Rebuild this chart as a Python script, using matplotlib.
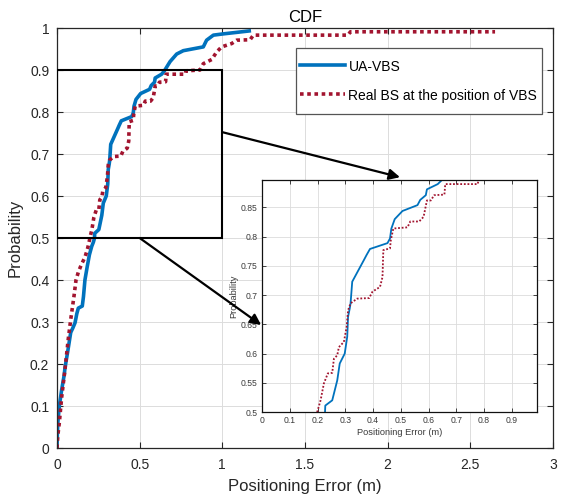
import matplotlib
matplotlib.use("Agg")
import matplotlib.pyplot as plt
from matplotlib.patches import Rectangle, ConnectionPatch
from matplotlib.ticker import FormatStrFormatter

plt.rcParams['font.family'] = ['Liberation Sans', 'DejaVu Sans']

# UA-VBS curve
vbs_x = [0, 0.002, 0.005, 0.014, 0.028, 0.044, 0.048, 0.065, 0.083, 0.095, 0.109, 0.12,
         0.129, 0.153, 0.16, 0.169, 0.182, 0.196, 0.21, 0.22, 0.227, 0.228, 0.253, 0.271,
         0.28, 0.298, 0.307, 0.31, 0.316, 0.319, 0.325, 0.367, 0.377, 0.389, 0.452, 0.461,
         0.466, 0.478, 0.506, 0.56, 0.57, 0.59, 0.594, 0.633, 0.648, 0.684, 0.724, 0.764,
         0.885, 0.905, 0.946, 1.006, 1.163]
vbs_y = [0, 0.03, 0.06, 0.1, 0.138, 0.175, 0.19, 0.23, 0.275, 0.285, 0.298, 0.32,
         0.333, 0.338, 0.36, 0.4, 0.43, 0.46, 0.48, 0.49, 0.5, 0.511, 0.52, 0.554,
         0.583, 0.6, 0.629, 0.663, 0.677, 0.686, 0.723, 0.76, 0.769, 0.779, 0.789, 0.797,
         0.814, 0.83, 0.844, 0.854, 0.863, 0.871, 0.881, 0.89, 0.897, 0.92, 0.938, 0.946,
         0.955, 0.971, 0.983, 0.986, 0.993]

# Real BS at the position of VBS
real_x = [0, 0.005, 0.014, 0.028, 0.048, 0.068, 0.083, 0.103, 0.115, 0.13, 0.149, 0.169,
          0.185, 0.195, 0.199, 0.211, 0.223, 0.237, 0.253, 0.259, 0.271, 0.277, 0.295,
          0.305, 0.31, 0.319, 0.343, 0.386, 0.398, 0.425, 0.434, 0.437, 0.461, 0.464,
          0.473, 0.524, 0.534, 0.566, 0.582, 0.594, 0.608, 0.62, 0.657, 0.66, 0.777, 0.78,
          0.865, 0.885, 0.936, 0.966, 0.996, 1.057, 1.087, 1.168, 1.188, 1.76, 1.775, 2.65]
real_y = [0, 0.03, 0.06, 0.12, 0.186, 0.259, 0.306, 0.362, 0.4, 0.42, 0.438, 0.454,
          0.475, 0.492, 0.5, 0.52, 0.549, 0.566, 0.567, 0.591, 0.597, 0.611, 0.62,
          0.646, 0.674, 0.686, 0.694, 0.695, 0.706, 0.714, 0.731, 0.777, 0.78, 0.794,
          0.814, 0.816, 0.826, 0.826, 0.834, 0.862, 0.862, 0.871, 0.872, 0.89, 0.89, 0.898,
          0.9, 0.915, 0.925, 0.943, 0.955, 0.963, 0.971, 0.972, 0.983, 0.983, 0.991, 0.991]

labels = ['UA-VBS', 'Real BS at the position of VBS']
blue = '#0072BD'
red = '#A2142F'
axcol = '#262626'
gridcol = '#dcdcdc'

fig = plt.figure(figsize=(5.61, 5.0), dpi=100)
ax = fig.add_axes([0.1016, 0.104, 0.884, 0.84])

ax.plot(vbs_x, vbs_y, color=blue, lw=2.6, label=labels[0])
ax.plot(real_x, real_y, color=red, lw=2.6, linestyle=(0, (1, 1)), label=labels[1])

ax.set_xlim(0, 3)
ax.set_ylim(0, 1)
ax.set_xticks([0, 0.5, 1, 1.5, 2, 2.5, 3])
ax.set_yticks([i / 10 for i in range(11)])
ax.xaxis.set_major_formatter(FormatStrFormatter('%g'))
ax.yaxis.set_major_formatter(FormatStrFormatter('%g'))
ax.tick_params(direction='in', length=4, width=0.8, top=True, right=True,
               labelsize=10, colors=axcol, labelcolor=axcol)
ax.tick_params(axis='x', pad=7.5)
ax.tick_params(axis='y', pad=5.5)
ax.grid(True, color=gridcol, lw=0.7)
ax.set_axisbelow(True)
for s in ax.spines.values():
    s.set_color(axcol)
    s.set_linewidth(0.9)
ax.set_xlabel('Positioning Error (m)', fontsize=12, color=axcol, labelpad=5)
ax.set_ylabel('Probability', fontsize=12, color=axcol, labelpad=5)
ax.set_title('CDF', fontsize=12, color='k', pad=4)

leg = ax.legend(loc='upper right', bbox_to_anchor=(0.978, 0.952), fontsize=10,
                fancybox=False, framealpha=1, edgecolor='#555555', handlelength=3.2,
                handleheight=2.68, labelspacing=0.1, handletextpad=0.25, borderpad=0.35,
                borderaxespad=0)
leg.get_frame().set_linewidth(0.9)
# put the handle lines level with the middle of the text
for h in leg.legend_handles:
    h.set_ydata([y - 2.3 for y in h.get_ydata()])

# zoom box
ax.add_patch(Rectangle((0, 0.5), 1, 0.4, fill=False, ec='k', lw=1.5, zorder=4))

# inset
ins = fig.add_axes([0.467, 0.176, 0.490, 0.464])
ins.plot(vbs_x, vbs_y, color=blue, lw=1.3)
ins.plot(real_x, real_y, color=red, lw=1.3, linestyle=(0, (1, 1)))
ins.set_xlim(0, 0.99)
ins.set_ylim(0.5, 0.897)
ins.set_xticks([i / 10 for i in range(10)])
ins.set_yticks([0.5, 0.55, 0.6, 0.65, 0.7, 0.75, 0.8, 0.85])
ins.xaxis.set_major_formatter(FormatStrFormatter('%g'))
ins.yaxis.set_major_formatter(FormatStrFormatter('%g'))
ins.tick_params(direction='in', length=3, width=0.6, top=True, right=True,
                labelsize=6.2, colors=axcol, labelcolor='#3a3a3a', pad=3)
ins.grid(True, color=gridcol, lw=0.6)
ins.set_axisbelow(True)
for s in ins.spines.values():
    s.set_color('#111111')
    s.set_linewidth(0.9)
ins.set_xlabel('Positioning Error (m)', fontsize=6.7, color='#3a3a3a', labelpad=2)
ins.set_ylabel('Probability', fontsize=6.7, color='#3a3a3a', labelpad=2)

# arrows from zoom box to inset
arr1 = ConnectionPatch(xyA=(1.0, 0.752), coordsA=ax.transData,
                       xyB=(0.502, 1.012), coordsB=ins.transAxes,
                       arrowstyle='-|>', color='k', lw=1.6, mutation_scale=16,
                       shrinkA=0, shrinkB=0, zorder=6)
arr2 = ConnectionPatch(xyA=(0.5, 0.5), coordsA=ax.transData,
                       xyB=(-0.003, 0.375), coordsB=ins.transAxes,
                       arrowstyle='-|>', color='k', lw=1.6, mutation_scale=16,
                       shrinkA=0, shrinkB=0, zorder=6)
fig.add_artist(arr1)
fig.add_artist(arr2)

fig.savefig('out.png', dpi=100)
